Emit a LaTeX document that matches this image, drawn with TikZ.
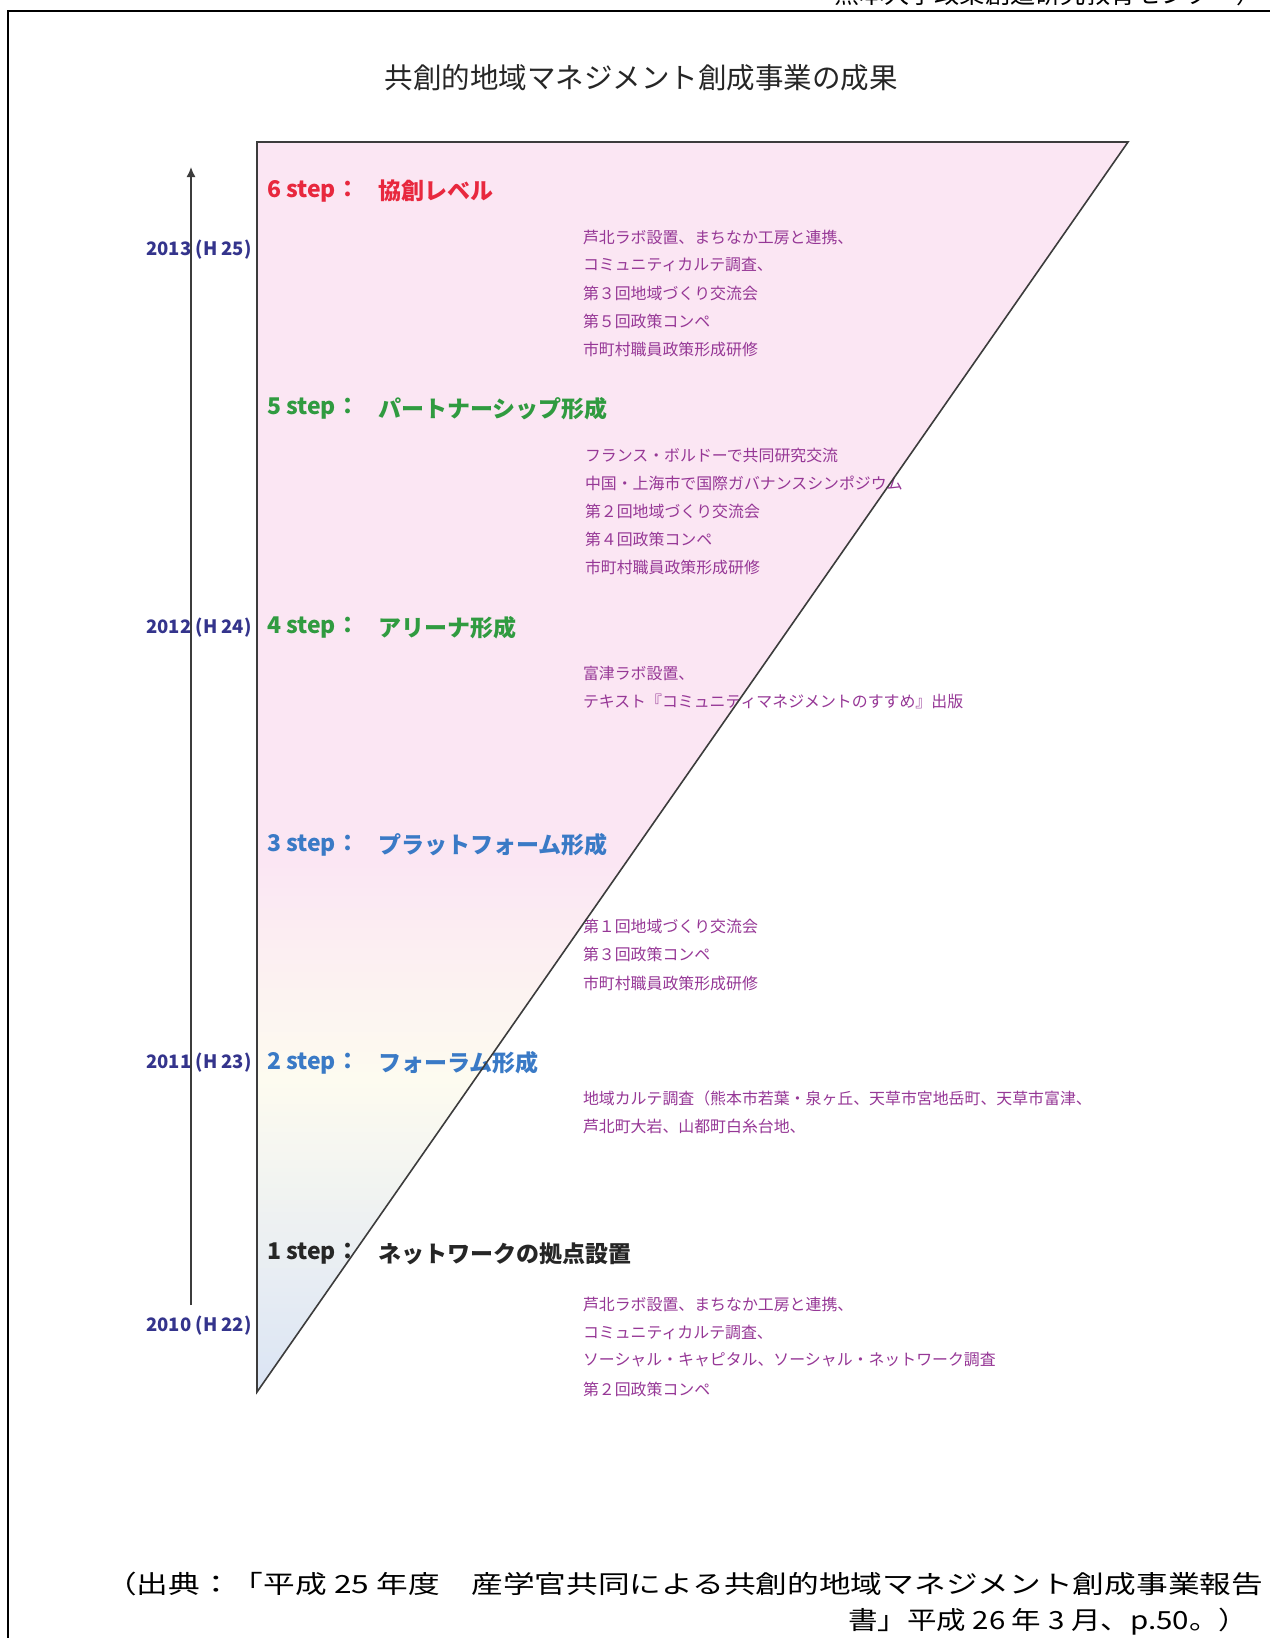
\documentclass[tikz,border=0pt]{standalone}
\usepackage{fontspec}
\usepackage{graphicx}
\newfontfamily\jp{Noto Sans CJK JP}
\usetikzlibrary{arrows.meta}
\definecolor{pinkf}{RGB}{251,230,243}
\definecolor{creamf}{RGB}{253,251,240}
\definecolor{bluef}{RGB}{218,228,244}
\definecolor{redt}{RGB}{232,40,62}
\definecolor{greent}{RGB}{48,155,64}
\definecolor{bluet}{RGB}{58,122,198}
\definecolor{yeart}{RGB}{52,52,140}
\definecolor{itemt}{RGB}{150,55,150}
\definecolor{linec}{RGB}{60,60,60}
\tikzset{
  txt/.style={inner sep=0pt, outer sep=0pt},
  stepnum/.style={txt, anchor=west, font=\jp\bfseries\fontsize{23}{23}\selectfont},
  steptxt/.style={txt, anchor=west, font=\jp\bfseries\fontsize{23}{23}\selectfont},
  itemlbl/.style={txt, anchor=west, text=itemt, font=\jp\fontsize{15.9}{15.9}\selectfont},
  yearlbl/.style={txt, text=yeart, font=\jp\bfseries\fontsize{18.5}{18.5}\selectfont},
  titletxt/.style={txt, text=black!85, font=\jp\fontsize{28.5}{28.5}\selectfont},
  captxt/.style={txt, text=black, font=\jp\fontsize{25}{25}\selectfont},
}
\begin{document}
\begin{tikzpicture}[x=1pt,y=-1pt]
\useasboundingbox (0,0) rectangle (1269,1638);
\fill[white] (0,0) rectangle (1269,1638);
% cut-off header
\begin{scope}
\clip (0,0) rectangle (1269,1638);
\node[captxt, anchor=east] (hdr) at (1262,-6) {\resizebox{428pt}{\height}{熊本大学政策創造研究教育センター）}};
\end{scope}
% frame
\draw[line width=2pt, black] (8,1640) -- (8,11) -- (1271,11);
% triangle
\coordinate (A) at (257,142);
\coordinate (B) at (1128,142);
\coordinate (C) at (257,1392);
\begin{scope}
\clip (A) -- (B) -- (C) -- cycle;
\fill[pinkf] (257,140) rectangle (1130,862);
\foreach \i in {0,...,54}{
  \pgfmathsetmacro{\p}{100-\i*100/54}
  \fill[pinkf!\p!creamf] (257,860+\i*4) rectangle (1130,865+\i*4);
}
\foreach \i in {0,...,79}{
  \pgfmathsetmacro{\p}{100-\i*100/79}
  \fill[creamf!\p!bluef] (257,1080+\i*4) rectangle (1130,1085+\i*4);
}
\end{scope}
% title
\node[titletxt] (title) at (641,78) {共創的地域マネジメント創成事業の成果};
% step labels
\node[stepnum, text=redt] (s6n) at (267,191) {6 step：};
\node[steptxt, text=redt] (s6t) at (378,191) {協創レベル};
\node[stepnum, text=greent] (s5n) at (267,409) {5 step：};
\node[steptxt, text=greent] (s5t) at (378,409) {パートナーシップ形成};
\node[stepnum, text=greent] (s4n) at (267,628) {4 step：};
\node[steptxt, text=greent] (s4t) at (378,628) {アリーナ形成};
\node[stepnum, text=bluet] (s3n) at (267,845) {3 step：};
\node[steptxt, text=bluet] (s3t) at (378,845) {プラットフォーム形成};
\node[stepnum, text=bluet] (s2n) at (267,1063) {2 step：};
\node[steptxt, text=bluet] (s2t) at (378,1063) {フォーラム形成};
\node[stepnum, text=black!85] (s1n) at (267,1254) {1 step：};
\node[steptxt, text=black!85] (s1t) at (378,1254) {ネットワークの拠点設置};
% items
\node[itemlbl] (g6a) at (583,237) {芦北ラボ設置、まちなか工房と連携、};
\node[itemlbl] (g6b) at (583,265) {コミュニティカルテ調査、};
\node[itemlbl] (g6c) at (583,293) {第３回地域づくり交流会};
\node[itemlbl] (g6d) at (583,321) {第５回政策コンペ};
\node[itemlbl] (g6e) at (583,349) {市町村職員政策形成研修};
\node[itemlbl] (g5a) at (585,455) {フランス・ボルドーで共同研究交流};
\node[itemlbl] (g5b) at (585,483) {中国・上海市で国際ガバナンスシンポジウム};
\node[itemlbl] (g5c) at (585,511) {第２回地域づくり交流会};
\node[itemlbl] (g5d) at (585,539) {第４回政策コンペ};
\node[itemlbl] (g5e) at (585,567) {市町村職員政策形成研修};
\node[itemlbl] (g4a) at (583,673) {富津ラボ設置、};
\node[itemlbl] (g4b) at (583,701) {テキスト『コミュニティマネジメントのすすめ』出版};
\node[itemlbl] (g3a) at (583,926) {第１回地域づくり交流会};
\node[itemlbl] (g3b) at (583,954) {第３回政策コンペ};
\node[itemlbl] (g3c) at (583,983) {市町村職員政策形成研修};
\node[itemlbl] (g2a) at (583,1098) {地域カルテ調査（熊本市若葉・泉ヶ丘、天草市宮地岳町、天草市富津、};
\node[itemlbl] (g2b) at (583,1126) {芦北町大岩、山都町白糸台地、};
\node[itemlbl] (g1a) at (583,1304) {芦北ラボ設置、まちなか工房と連携、};
\node[itemlbl] (g1b) at (583,1332) {コミュニティカルテ調査、};
\node[itemlbl] (g1c) at (583,1360) {ソーシャル・キャピタル、ソーシャル・ネットワーク調査};
\node[itemlbl] (g1d) at (583,1389) {第２回政策コンペ};
% triangle outline
\draw[linec, line width=1.6pt, line join=miter] (A) -- (B) -- (C) -- cycle;
% year labels
\node[yearlbl] (y13) at (199,250) {2013 (H 25)};
\node[yearlbl] (y12) at (199,628) {2012 (H 24)};
\node[yearlbl] (y11) at (199,1063) {2011 (H 23)};
\node[yearlbl] (y10) at (199,1326) {2010 (H 22)};
% time arrow
\coordinate (arrbot) at (191,1305);
\coordinate (arrtop) at (191,167);
\draw[linec, line width=1.5pt, -{Latex[length=10pt,width=9pt]}] (arrbot) -- (arrtop);
% caption
\node[captxt, anchor=west] (cap1) at (105,1584) {\resizebox{1158pt}{\height}{（出典：「平成 25 年度　産学官共同による共創的地域マネジメント創成事業報告}};
\node[captxt, anchor=east] (cap2) at (1248,1622) {\resizebox{400pt}{\height}{書」平成 26 年 3 月、p.50。）}};
\end{tikzpicture}
\end{document}
